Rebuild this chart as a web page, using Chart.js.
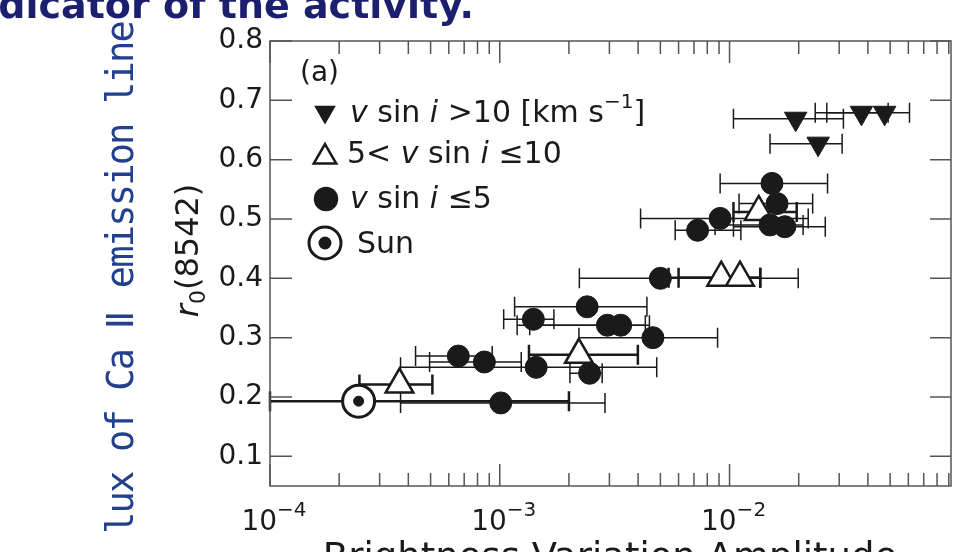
<!DOCTYPE html>
<html>
<head>
<meta charset="utf-8">
<script src="https://cdn.jsdelivr.net/npm/chart.js@4.4.1/dist/chart.umd.min.js"></script>
<style>
  html, body { margin: 0; padding: 0; background: #fff; }
  canvas { display: block; }
</style>
</head>
<body>
<canvas id="activity-chart" width="954" height="552"></canvas>
<script>
const canvas = document.getElementById('activity-chart');

// v sin i > 10 km/s  (filled, pointing down)
const fast_x  = [1.94e-2, 3.75e-2, 4.73e-2, 2.43e-2];
const fast_y  = [0.669, 0.679, 0.679, 0.627];
const fast_lo = [1.04e-2, 2.36e-2, 2.65e-2, 1.50e-2];
const fast_hi = [3.13e-2, 4.90e-2, 6.07e-2, 3.09e-2];

// 5 < v sin i <= 10  (open triangles)
const mid_x  = [3.66e-4, 2.21e-3, 9.2e-3, 1.11e-2, 1.34e-2];
const mid_y  = [0.221, 0.271, 0.401, 0.401, 0.512];
const mid_lo = [2.45e-4, 1.34e-3, 5.43e-3, 6.0e-3, 1.04e-2];
const mid_hi = [5.09e-4, 3.99e-3, 1.36e-2, 1.36e-2, 1.96e-2];

// v sin i <= 5  (filled circles)
const slow_x  = [1.01e-3, 6.6e-4, 8.57e-4, 1.44e-3, 2.46e-3, 1.40e-3, 2.40e-3, 2.94e-3, 3.36e-3,
                 4.64e-3, 5.0e-3, 1.53e-2, 1.61e-2, 9.1e-3, 7.26e-3, 1.50e-2, 1.74e-2];
const slow_y  = [0.190, 0.269, 0.259, 0.250, 0.240, 0.331, 0.352, 0.321, 0.321,
                 0.300, 0.400, 0.560, 0.526, 0.501, 0.481, 0.490, 0.487];
const slow_lo = [3.7e-4, 4.30e-4, 4.95e-4, 3.7e-4, 2.02e-3, 1.04e-3, 1.16e-3, 1.19e-3, 1.35e-3,
                 2.21e-3, 2.22e-3, 9.1e-3, 1.1e-2, 4.1e-3, 5.8e-3, 8.65e-3, 1.04e-2];
const slow_hi = [2.87e-3, 9.27e-4, 1.24e-3, 4.82e-3, 2.79e-3, 1.72e-3, 4.37e-3, 4.48e-3, 4.3e-3,
                 8.87e-3, 1.99e-2, 2.67e-2, 2.3e-2, 2.2e-2, 1.12e-2, 2.09e-2, 2.61e-2];

// the Sun
const sun_x  = [2.43e-4];
const sun_y  = [0.193];
const sun_lo = [1.0e-4];
const sun_hi = [2.0e-3];

const y_ticks = [0.1, 0.2, 0.3, 0.4, 0.5, 0.6, 0.7, 0.8];
const x_major = [1e-4, 1e-3, 1e-2];
const x_exps  = ['\u22124', '\u22123', '\u22122'];

const FONT = 'DejaVu Sans';
const INK = '#1a1a1a';
const FRAME = '#555';


function to_points(xs, ys) {
    return xs.map((v, i) => ({ x: v, y: ys[i] }));
}

const bar_groups = [
    { lo: slow_lo, hi: slow_hi, y: slow_y, width: 1.5 },
    { lo: fast_lo, hi: fast_hi, y: fast_y, width: 1.5 },
    { lo: mid_lo,  hi: mid_hi,  y: mid_y,  width: 2.5 },
    { lo: sun_lo,  hi: sun_hi,  y: sun_y,  width: 2.5 }
];


// horizontal error bars with caps, under the markers
const error_bars = {
    id: 'errorBars',
    beforeDatasetsDraw(chart) {
        const {ctx, scales: {x, y}} = chart;
        ctx.save();
        ctx.strokeStyle = INK;
        bar_groups.forEach(g => {
            ctx.lineWidth = g.width;
            g.lo.forEach((lo, i) => {
                const py = y.getPixelForValue(g.y[i]);
                const x0 = x.getPixelForValue(lo);
                const x1 = x.getPixelForValue(g.hi[i]);
                ctx.beginPath();
                ctx.moveTo(x0, py); ctx.lineTo(x1, py);
                ctx.moveTo(x0, py - 10); ctx.lineTo(x0, py + 10);
                ctx.moveTo(x1, py - 10); ctx.lineTo(x1, py + 10);
                ctx.stroke();
            });
        });
        ctx.restore();
    }
};


// draws a run of text pieces (italic / superscript / subscript) from x
function draw_runs(ctx, x, base, runs) {
    runs.forEach(r => {
        const size = r.size || 30;
        ctx.font = (r.bold ? 'bold ' : '') + (r.italic ? 'italic ' : '') + size + 'px "' + FONT + '"';
        ctx.fillText(r.t, x, base + (r.dy || 0));
        x += ctx.measureText(r.t).width;
    });
    return x;
}


// frame, inward ticks, log labels, legend and the cut-off page text
const decorations = {
    id: 'decorations',
    afterDraw(chart) {
        const {ctx, chartArea: a, scales: {x, y}} = chart;
        ctx.save();

        // frame
        ctx.strokeStyle = FRAME;
        ctx.lineWidth = 1.5;
        ctx.strokeRect(a.left, a.top, a.right - a.left, a.bottom - a.top);

        // y ticks, left and right, pointing in
        ctx.beginPath();
        y_ticks.forEach(v => {
            const py = y.getPixelForValue(v);
            ctx.moveTo(a.left, py); ctx.lineTo(a.left + 22, py);
            ctx.moveTo(a.right, py); ctx.lineTo(a.right - 21, py);
        });
        // x ticks, bottom and top, pointing in
        x_major.forEach(d => {
            for (let m = 1; m <= 9; m++) {
                const v = d * m;
                if (v > x.max) break;
                const px = x.getPixelForValue(v);
                const len = m === 1 ? 22 : 13;
                ctx.moveTo(px, a.bottom); ctx.lineTo(px, a.bottom - len);
                ctx.moveTo(px, a.top); ctx.lineTo(px, a.top + len);
            }
        });
        ctx.stroke();

        // x tick labels 10^n
        ctx.fillStyle = INK;
        ctx.textBaseline = 'alphabetic';
        ctx.textAlign = 'left';
        x_major.forEach((v, i) => {
            const px = x.getPixelForValue(v);
            ctx.font = '28px "' + FONT + '"';
            const w1 = ctx.measureText('10').width;
            ctx.font = '20px "' + FONT + '"';
            const w2 = ctx.measureText(x_exps[i]).width;
            const start = px - (w1 + w2) / 2 + 4;
            draw_runs(ctx, start, 530, [
                { t: '10', size: 28 },
                { t: x_exps[i], size: 20, dy: -14 }
            ]);
        });

        // x axis title, only its top shows
        ctx.font = '37px "' + FONT + '"';
        ctx.textAlign = 'center';
        ctx.fillText('Brightness Variation Amplitude', 610, 569);

        // y axis title r0(8542)
        ctx.save();
        ctx.translate(198, 251);
        ctx.rotate(-Math.PI / 2);
        ctx.textAlign = 'left';
        ctx.font = '32px "' + FONT + '"';
        const wr = ctx.measureText('(8542)').width + 26;
        draw_runs(ctx, -wr / 2, 0, [
            { t: 'r', italic: true, size: 32 },
            { t: '0', size: 22, dy: 7 },
            { t: '(8542)', size: 32 }
        ]);
        ctx.restore();

        // blue slide text on the left
        ctx.save();
        ctx.fillStyle = '#23408e';
        ctx.translate(133, 534);
        ctx.rotate(-Math.PI / 2);
        ctx.textAlign = 'left';
        ctx.font = '37px "DejaVu Sans Mono"';
        const side = 'lux of Ca \u2161 emission line';
        const cell = 512 / side.length;
        [...side].forEach((c, i) => ctx.fillText(c, i * cell, 0));
        ctx.restore();

        // blue slide text at the top
        ctx.fillStyle = '#1b1f6e';
        ctx.textAlign = 'right';
        ctx.font = 'bold 38px "' + FONT + '"';
        ctx.fillText('indicator of the activity.', 474, 18);

        // legend
        ctx.fillStyle = INK;
        ctx.strokeStyle = INK;
        ctx.textAlign = 'left';
        draw_runs(ctx, 300, 81, [{ t: '(a)', size: 28 }]);

        Chart.helpers.drawPoint(ctx, { pointStyle: 'triangle', radius: 11, rotation: 180, borderWidth: 1 }, 325, 112);
        draw_runs(ctx, 350, 122, [
            { t: 'v', italic: true }, { t: ' sin ' }, { t: 'i', italic: true },
            { t: ' >10 [km s' }, { t: '\u22121', size: 20, dy: -14 }, { t: ']' }
        ]);

        ctx.fillStyle = '#fff';
        ctx.lineWidth = 2.5;
        Chart.helpers.drawPoint(ctx, { pointStyle: 'triangle', radius: 13, rotation: 0, borderWidth: 2.5 }, 325, 157);
        ctx.fillStyle = INK;
        draw_runs(ctx, 347, 163, [
            { t: '5< ' }, { t: 'v', italic: true }, { t: ' sin ' }, { t: 'i', italic: true }, { t: ' \u226410' }
        ]);

        Chart.helpers.drawPoint(ctx, { pointStyle: 'circle', radius: 11, borderWidth: 1 }, 326, 199);
        draw_runs(ctx, 350, 208, [
            { t: 'v', italic: true }, { t: ' sin ' }, { t: 'i', italic: true }, { t: ' \u22645' }
        ]);

        ctx.fillStyle = '#fff';
        ctx.lineWidth = 3;
        Chart.helpers.drawPoint(ctx, { pointStyle: 'circle', radius: 16, borderWidth: 3 }, 325, 243);
        ctx.fillStyle = INK;
        Chart.helpers.drawPoint(ctx, { pointStyle: 'circle', radius: 5, borderWidth: 1 }, 325, 243);
        draw_runs(ctx, 357, 253, [{ t: 'Sun' }]);

        ctx.restore();
    }
};


const chart = new Chart(canvas, {
    type: 'scatter',
    data: {
        datasets: [
            {
                label: 'Sun dot',
                data: to_points(sun_x, sun_y),
                pointStyle: 'circle', pointRadius: 5,
                backgroundColor: INK, borderColor: INK, borderWidth: 1
            },
            {
                label: 'Sun',
                data: to_points(sun_x, sun_y),
                pointStyle: 'circle', pointRadius: 16,
                backgroundColor: '#fff', borderColor: INK, borderWidth: 3
            },
            {
                label: 'v sin i <= 5',
                data: to_points(slow_x, slow_y),
                pointStyle: 'circle', pointRadius: 11,
                backgroundColor: INK, borderColor: INK, borderWidth: 1
            },
            {
                label: 'v sin i > 10',
                data: to_points(fast_x, fast_y),
                pointStyle: 'triangle', pointRotation: 180, pointRadius: 13,
                backgroundColor: INK, borderColor: INK, borderWidth: 1
            },
            {
                label: '5 < v sin i <= 10',
                data: to_points(mid_x, mid_y),
                pointStyle: 'triangle', pointRadius: 16,
                backgroundColor: '#fff', borderColor: INK, borderWidth: 2.5
            }
        ]
    },
    options: {
        responsive: false,
        animation: false,
        layout: { autoPadding: false, padding: { top: 41, right: 3, left: 0, bottom: 0 } },
        plugins: {
            legend: { display: false },
            tooltip: { enabled: false }
        },
        scales: {
            x: {
                type: 'logarithmic',
                min: 1e-4,
                max: 0.092,
                grid: { display: false, drawTicks: false },
                border: { display: false },
                ticks: { display: false },
                afterFit: (s) => { s.height = 66; }
            },
            y: {
                type: 'linear',
                min: 0.05,
                max: 0.8,
                grid: { display: false, drawTicks: false },
                border: { display: false },
                afterBuildTicks: (s) => { s.ticks = y_ticks.map(v => ({ value: v })); },
                ticks: {
                    padding: 7,
                    color: INK,
                    font: { family: FONT, size: 28 },
                    callback: (v) => Number(v).toFixed(1)
                },
                afterFit: (s) => { s.width = 270; }
            }
        }
    },
    plugins: [error_bars, decorations]
});
</script>
</body>
</html>
